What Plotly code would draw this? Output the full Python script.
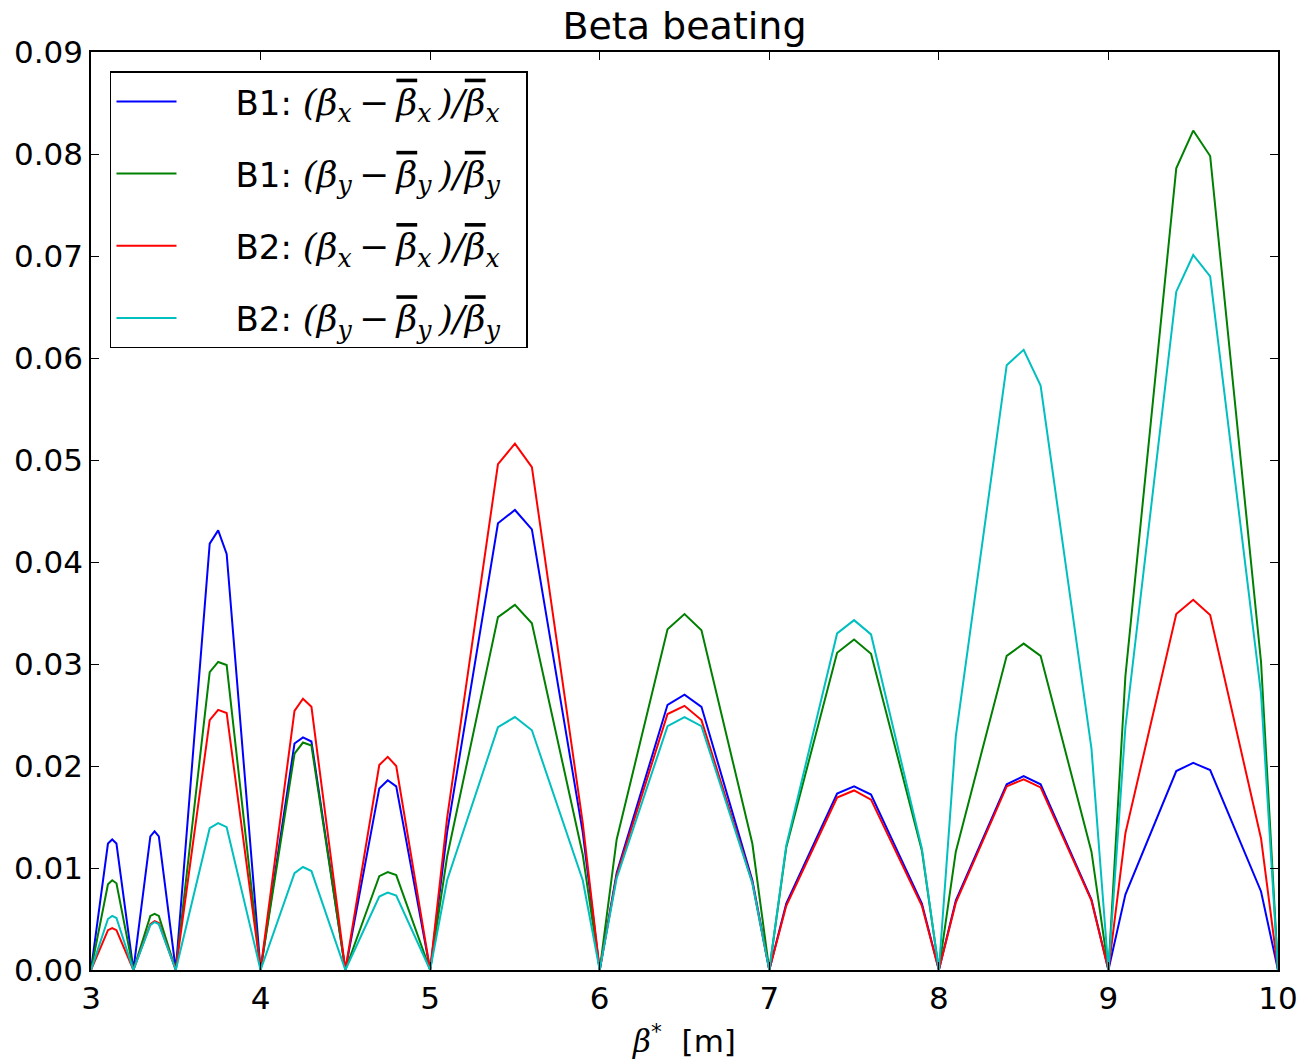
import plotly.graph_objects as go

beta_star = [3.0, 3.1, 3.125, 3.15, 3.25, 3.35, 3.375, 3.4, 3.5, 3.7, 3.75, 3.8,
             4.0, 4.2, 4.25, 4.3, 4.5, 4.7, 4.75, 4.8, 5.0, 5.1, 5.4, 5.5, 5.6, 5.9,
             6.0, 6.1, 6.4, 6.5, 6.6, 6.9, 7.0, 7.1, 7.4, 7.5, 7.6, 7.9,
             8.0, 8.1, 8.4, 8.5, 8.6, 8.9, 9.0, 9.1, 9.4, 9.5, 9.6, 9.9, 10.0]

b1_x = [0, 0.0124, 0.0128, 0.0124, 0, 0.0131, 0.0136, 0.0131, 0, 0.0418, 0.0431, 0.0408,
        0, 0.0222, 0.0228, 0.0224, 0, 0.0178, 0.0186, 0.0180, 0, 0.0135, 0.0438, 0.0451, 0.0432, 0.0135,
        0, 0.0095, 0.0260, 0.0270, 0.0258, 0.0088, 0, 0.0065, 0.0173, 0.0180, 0.0172, 0.0065,
        0, 0.0068, 0.0182, 0.0190, 0.0182, 0.0069, 0, 0.0074, 0.0195, 0.0203, 0.0196, 0.0077, 0]

b1_y = [0, 0.0084, 0.0088, 0.0085, 0, 0.0053, 0.0055, 0.0053, 0, 0.0292, 0.0302, 0.0299,
        0, 0.0212, 0.0223, 0.0220, 0, 0.0092, 0.0096, 0.0093, 0, 0.0111, 0.0346, 0.0358, 0.0340, 0.0113,
        0, 0.0128, 0.0334, 0.0349, 0.0333, 0.0124, 0, 0.0120, 0.0311, 0.0324, 0.0310, 0.0117,
        0, 0.0116, 0.0308, 0.0320, 0.0308, 0.0116, 0, 0.0288, 0.0786, 0.0823, 0.0798, 0.0302, 0]

b2_x = [0, 0.0039, 0.0041, 0.0039, 0, 0.0045, 0.0048, 0.0046, 0, 0.0245, 0.0255, 0.0252,
        0, 0.0254, 0.0266, 0.0258, 0, 0.0201, 0.0209, 0.0200, 0, 0.0149, 0.0496, 0.0516, 0.0493, 0.0144,
        0, 0.0093, 0.0251, 0.0259, 0.0245, 0.0086, 0, 0.0063, 0.0169, 0.0176, 0.0167, 0.0063,
        0, 0.0066, 0.0180, 0.0187, 0.0179, 0.0068, 0, 0.0134, 0.0349, 0.0363, 0.0348, 0.0129, 0]

b2_y = [0, 0.0050, 0.0053, 0.0051, 0, 0.0044, 0.0047, 0.0045, 0, 0.0139, 0.0144, 0.0140,
        0, 0.0095, 0.0101, 0.0097, 0, 0.0072, 0.0076, 0.0073, 0, 0.0088, 0.0238, 0.0248, 0.0235, 0.0088,
        0, 0.0090, 0.0239, 0.0248, 0.0239, 0.0085, 0, 0.0122, 0.0330, 0.0343, 0.0329, 0.0119,
        0, 0.0229, 0.0593, 0.0608, 0.0573, 0.0217, 0, 0.0238, 0.0665, 0.0701, 0.0680, 0.0271, 0]

MATH = "font-family:'DejaVu Serif';font-style:italic;font-size:36px"
BAR = "text-decoration:overline"
PAD = "\u00a0" * 5


def label(beam, c):
    return (f"{PAD}{beam}: <span style=\"{MATH}\">(β<sub>{c}</sub>\u2009−\u2009"
            f"<span style=\"{BAR}\">β</span><sub>{c}</sub>\u2009)/"
            f"<span style=\"{BAR}\">β</span><sub>{c}</sub></span>\u00a0\u00a0")


names = [label("B1", "x"), label("B1", "y"), label("B2", "x"), label("B2", "y")]
series = [b1_x, b1_y, b2_x, b2_y]
colors = ["#0000ff", "#008000", "#ff0000", "#00bfbf"]

fig = go.Figure()
for i, (nm, vals, c) in enumerate(zip(names, series, colors)):
    fig.add_trace(go.Scatter(x=beta_star, y=vals, mode="lines", name=nm,
                             legendgroup=f"g{i}",
                             line=dict(color=c, width=2)))

axis_common = dict(showline=True, linecolor="black", linewidth=1.5, mirror="ticks",
                   ticks="inside", ticklen=8, tickwidth=1.2, tickcolor="black",
                   showgrid=False, zeroline=False, automargin=False,
                   tickfont=dict(family="DejaVu Sans", size=31, color="black"))

fig.update_layout(
    width=1301, height=1061,
    margin=dict(l=91, r=23, t=52, b=91),
    paper_bgcolor="white", plot_bgcolor="white",
    title=dict(text="Beta beating", x=0.5, xanchor="center", xref="paper",
               y=1 - 26 / 1061, yanchor="middle",
               font=dict(family="DejaVu Sans", size=38, color="black")),
    xaxis=dict(range=[3, 10], tickmode="array", tickvals=[3, 4, 5, 6, 7, 8, 9, 10],
               ticktext=["3", "4", "5", "6", "7", "8", "9", "10"],
               title=dict(text="<span style=\"font-family:'DejaVu Serif';font-style:italic\">β</span><sup>*</sup>  [m]",
                          font=dict(family="DejaVu Sans", size=31, color="black")),
               **axis_common),
    yaxis=dict(range=[0, 0.09], tickmode="array",
               tickvals=[0, 0.01, 0.02, 0.03, 0.04, 0.05, 0.06, 0.07, 0.08, 0.09],
               ticktext=["0.00", "0.01", "0.02", "0.03", "0.04", "0.05", "0.06", "0.07", "0.08", "0.09"],
               **axis_common),
    legend=dict(x=0.016, y=0.979, xanchor="left", yanchor="top",
                bgcolor="white", bordercolor="black", borderwidth=1.5,
                font=dict(family="DejaVu Sans", size=34, color="black"),
                tracegroupgap=25, itemwidth=60),
    showlegend=True,
)

fig.write_html("out.html")
